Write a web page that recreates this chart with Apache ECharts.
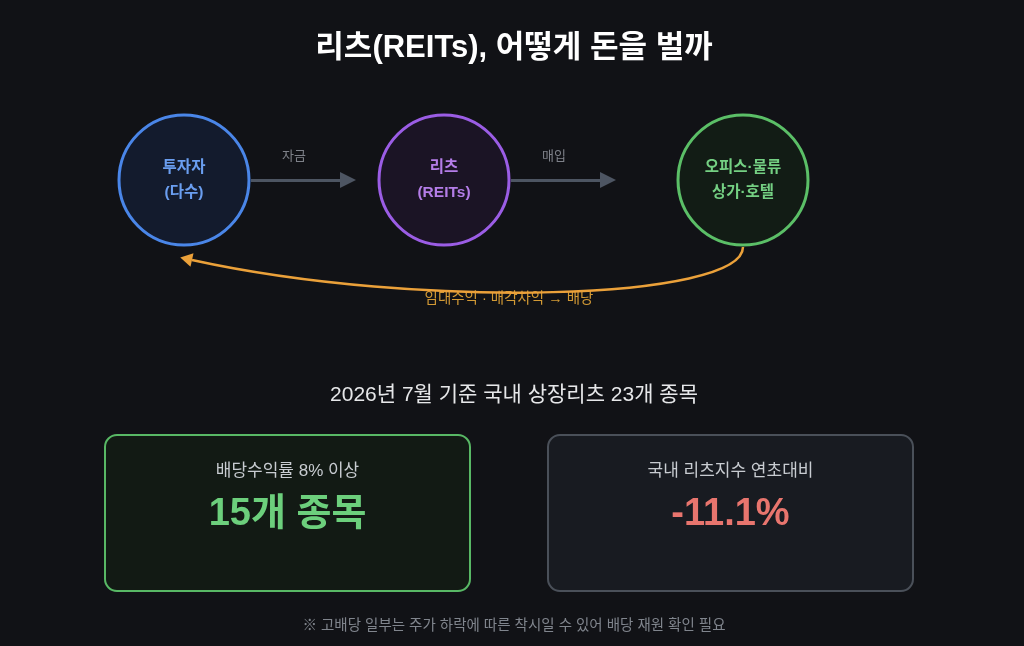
<!DOCTYPE html>
<html>
<head>
<meta charset="utf-8">
<script src="https://cdn.jsdelivr.net/npm/echarts@6/dist/echarts.min.js"></script>
<style>
html, body { margin: 0; padding: 0; background: #111216; }
#main { width: 1024px; height: 646px; }
</style>
</head>
<body>
<div id="main"></div>
<script>
// content
const titleText = '리츠(REITs), 어떻게 돈을 벌까';
const nodeNames = ['투자자\n(다수)', '리츠\n(REITs)', '오피스·물류\n상가·호텔'];
const flowLabels = ['자금', '매입'];
const returnFlow = [2, 0]; // from node, to node
const returnLabel = '임대수익 · 매각차익 → 배당';
const subtitleText = '2026년 7월 기준 국내 상장리츠 23개 종목';
const statLabels = ['배당수익률 8% 이상', '국내 리츠지수 연초대비'];
const statValues = ['15개 종목', '-11.1%'];
const footnoteText = '※ 고배당 일부는 주가 하락에 따른 착시일 수 있어 배당 재원 확인 필요';

// layout on a hidden 1024 x 646 grid
const centerX = 509;
const nodeX = [184, 444, 743];
const nodeY = 180;
const R = 66;
const arrowLen = 106;
const boxX = [105, 548];
const boxY = 435, boxW = 365, boxH = 156;

const FONT = "'Liberation Sans', 'Noto Sans CJK KR', sans-serif";

const nodeStyle = [
    {stroke: '#4a86e8', fill: '#131b2d', text: '#6a9ef0'},
    {stroke: '#9b5de5', fill: '#1b1425', text: '#b47de8'},
    {stroke: '#5bbf67', fill: '#121c15', text: '#74d083'}
];
const boxStyle = [
    {stroke: '#58b865', fill: '#121a14', value: '#6ccf7c'},
    {stroke: '#4a5059', fill: '#181b21', value: '#e8756e'}
];

const chart = echarts.init(document.getElementById('main'));

const option = {
    backgroundColor: '#111216',
    animation: false,
    title: [
        {
            text: titleText, left: centerX, top: 28, textAlign: 'center',
            textStyle: {color: '#ffffff', fontSize: 31, fontWeight: 'bold', fontFamily: FONT}
        },
        {
            text: subtitleText, left: centerX, top: 380, textAlign: 'center',
            textStyle: {color: '#e6e7e9', fontSize: 21, fontWeight: 'normal', fontFamily: FONT}
        },
        {
            text: footnoteText, left: centerX, top: 614, textAlign: 'center',
            textStyle: {color: '#80858d', fontSize: 14.5, fontWeight: 'normal', fontFamily: FONT}
        }
    ],
    grid: {left: 0, right: 0, top: 0, bottom: 0},
    xAxis: {type: 'value', min: 0, max: 1024, show: false},
    yAxis: {type: 'value', min: 0, max: 646, inverse: true, show: false},
    series: [
        {
            // straight flow arrows between nodes
            type: 'lines',
            coordinateSystem: 'cartesian2d',
            silent: true,
            symbol: ['none', 'triangle'],
            symbolSize: 16,
            lineStyle: {color: '#4d5562', width: 3, opacity: 1, curveness: 0},
            data: flowLabels.map((l, i) => ({
                coords: [[nodeX[i] + R + 1, nodeY], [nodeX[i] + R + arrowLen - 8, nodeY]]
            })),
            z: 1
        },
        {
            // flow labels
            type: 'scatter',
            silent: true,
            symbolSize: 0,
            label: {
                show: true, position: 'inside', formatter: '{b}',
                color: '#9a9ea6', fontSize: 13, fontFamily: FONT
            },
            data: flowLabels.map((l, i) => ({name: l, value: [nodeX[i] + R + 44, nodeY - 24]})),
            z: 2
        },
        {
            // nodes
            type: 'scatter',
            silent: true,
            symbol: 'circle',
            symbolSize: 130,
            data: nodeNames.map((n, i) => ({
                name: n,
                value: [nodeX[i], nodeY],
                itemStyle: {color: nodeStyle[i].fill, borderColor: nodeStyle[i].stroke, borderWidth: 3, opacity: 1},
                label: {color: nodeStyle[i].text}
            })),
            label: {
                show: true, position: 'inside', formatter: '{b}',
                fontSize: 15.5, fontWeight: 'bold', lineHeight: 25, fontFamily: FONT
            },
            z: 3
        },
        {
            // return flow: rent and sale gains back to investors
            type: 'custom',
            silent: true,
            data: [returnFlow],
            renderItem: function (params, api) {
                const from = api.value(0), to = api.value(1);
                const p0 = api.coord([nodeX[from], nodeY + R + 1]);
                const c1 = api.coord([nodeX[from], nodeY + R + 54]);
                const c2 = api.coord([(nodeX[from] + nodeX[to]) / 2 - 44, nodeY + R + 64]);
                const p3 = api.coord([nodeX[to] + 8, nodeY + R + 14]);
                let dx = p3[0] - c2[0], dy = p3[1] - c2[1];
                const len = Math.sqrt(dx * dx + dy * dy);
                dx /= len; dy /= len;
                const tip = [p3[0] + dx * 12, p3[1] + dy * 12];
                const b1 = [p3[0] - dy * 7, p3[1] + dx * 7];
                const b2 = [p3[0] + dy * 7, p3[1] - dx * 7];
                const lab = api.coord([centerX, nodeY + R + 53]);
                return {
                    type: 'group',
                    children: [
                        {
                            type: 'text',
                            style: {
                                text: returnLabel, x: lab[0], y: lab[1],
                                fill: '#d39a35', fontSize: 14.5, fontFamily: FONT,
                                textAlign: 'center', textVerticalAlign: 'middle'
                            }
                        },
                        {
                            type: 'bezierCurve',
                            shape: {
                                x1: p0[0], y1: p0[1], x2: p3[0], y2: p3[1],
                                cpx1: c1[0], cpy1: c1[1], cpx2: c2[0], cpy2: c2[1]
                            },
                            style: {stroke: '#eba13a', lineWidth: 2.5, fill: null}
                        },
                        {
                            type: 'polygon',
                            shape: {points: [tip, b1, b2]},
                            style: {fill: '#eba13a'}
                        }
                    ]
                };
            },
            z: 4
        },
        {
            // stat cards
            type: 'custom',
            silent: true,
            data: statValues.map((v, i) => [i]),
            renderItem: function (params, api) {
                const i = api.value(0);
                const tl = api.coord([boxX[i], boxY]);
                const br = api.coord([boxX[i] + boxW, boxY + boxH]);
                const cx = (tl[0] + br[0]) / 2;
                return {
                    type: 'group',
                    children: [
                        {
                            type: 'rect',
                            shape: {x: tl[0], y: tl[1], width: br[0] - tl[0], height: br[1] - tl[1], r: 12},
                            style: {fill: boxStyle[i].fill, stroke: boxStyle[i].stroke, lineWidth: 2}
                        },
                        {
                            type: 'text',
                            style: {
                                text: statLabels[i], x: cx, y: tl[1] + 36,
                                fill: '#c8ccd1', fontSize: 17, fontFamily: FONT,
                                textAlign: 'center', textVerticalAlign: 'middle'
                            }
                        },
                        {
                            type: 'text',
                            style: {
                                text: statValues[i], x: cx, y: tl[1] + 80,
                                fill: boxStyle[i].value, fontSize: 38, fontWeight: 'bold', fontFamily: FONT,
                                textAlign: 'center', textVerticalAlign: 'middle'
                            }
                        }
                    ]
                };
            },
            z: 5
        }
    ]
};

chart.setOption(option);
window.addEventListener('resize', function () {
    chart.resize();
});
</script>
</body>
</html>
